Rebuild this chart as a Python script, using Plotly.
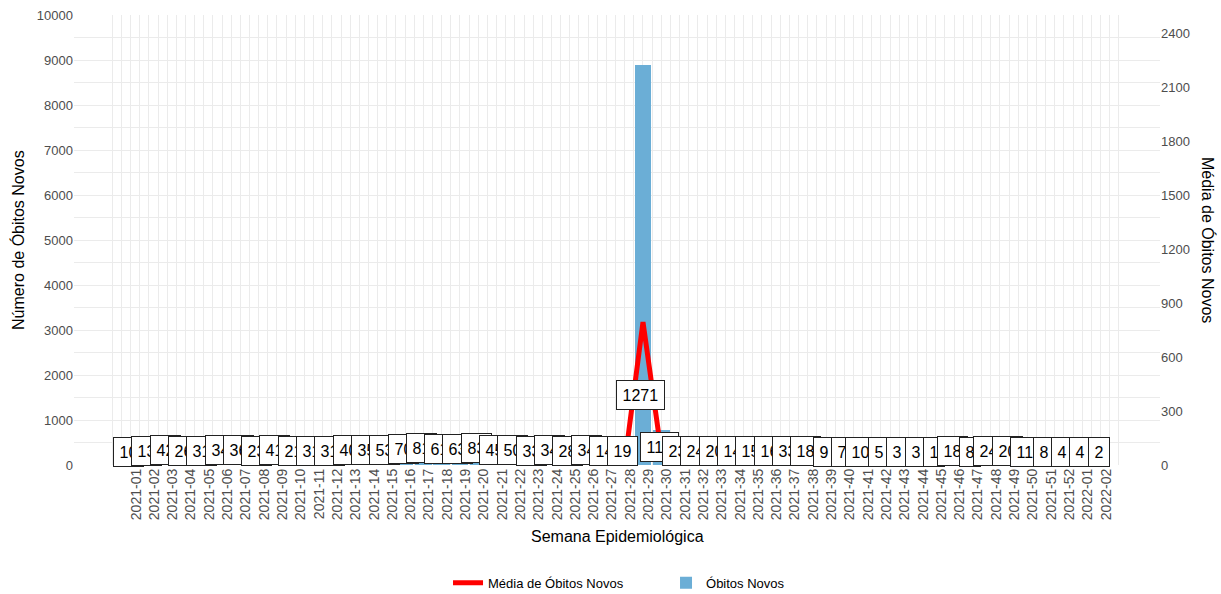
import plotly.graph_objects as go

semanas = [f"2021-{i:02d}" for i in range(1, 53)] + ["2022-01", "2022-02"]

obitos_novos = [70, 91, 294, 182, 217, 238, 252, 161, 287, 147,
                217, 217, 280, 245, 371, 490, 567, 427, 441, 581,
                315, 350, 231, 238, 196, 238, 98, 133, 8897, 770,
                161, 168, 140, 98, 105, 112, 231, 126, 63, 49,
                70, 35, 21, 21, 7, 126, 56, 168, 140, 77,
                56, 28, 28, 14]

media_obitos = [10, 13, 42, 26, 31, 34, 36, 23, 41, 21,
                31, 31, 40, 35, 53, 70, 81, 61, 63, 83,
                45, 50, 33, 34, 28, 34, 14, 19, 1271, 110,
                23, 24, 20, 14, 15, 16, 33, 18, 9, 7,
                10, 5, 3, 3, 1, 18, 8, 24, 20, 11,
                8, 4, 4, 2]

y_ticks = list(range(0, 10001, 1000))
y2_ticks = list(range(0, 2401, 300))

LINE_SCALE = 0.625   # line drawn against the secondary axis
TICK_OFFSET = 0.3
FONT = "Liberation Sans, Arial, sans-serif"
GRID = "#ebebeb"

idx = list(range(len(semanas)))

fig = go.Figure()
fig.add_trace(go.Scatter(
    x=idx, y=[m * LINE_SCALE for m in media_obitos], yaxis="y2",
    mode="lines", line=dict(color="#ff0000", width=5),
    name="Média de Óbitos Novos"))
fig.add_trace(go.Bar(
    x=idx, y=obitos_novos, width=0.9, marker=dict(color="#6baed6", line=dict(width=0)),
    name="Óbitos Novos"))

annotations = []
for i, m in zip(idx, media_obitos):
    annotations.append(dict(
        x=i, y=m, xref="x", yref="y", text=str(m), showarrow=False,
        xanchor="center", yanchor="bottom", xshift=-2, yshift=-2,
        font=dict(family=FONT, size=16, color="#000000"),
        bgcolor="#ffffff", bordercolor="#222222", borderwidth=1, borderpad=5.5))

annotations += [
    dict(x=0.5, y=-0.158, xref="paper", yref="paper", text="Semana Epidemiológica",
         showarrow=False, xanchor="center", yanchor="middle",
         font=dict(family=FONT, size=16, color="#000000")),
    dict(x=-0.0516, y=0.5, xref="paper", yref="paper", text="Número de Óbitos Novos",
         showarrow=False, textangle=-90, xanchor="center", yanchor="middle",
         font=dict(family=FONT, size=16, color="#000000")),
    dict(x=1.0442, y=0.5, xref="paper", yref="paper", text="Média de Óbitos Novos",
         showarrow=False, textangle=90, xanchor="center", yanchor="middle",
         font=dict(family=FONT, size=16, color="#000000")),
]

minor_x = [-1 + 0.5 * k for k in range(111)]

fig.update_layout(
    width=1221, height=594,
    margin=dict(l=74, r=61, t=15, b=129, autoexpand=False),
    paper_bgcolor="#ffffff", plot_bgcolor="#ffffff",
    font=dict(family=FONT, color="#4d4d4d"),
    bargap=0,
    xaxis=dict(
        range=[-3.09, 56.25], tickmode="array", automargin=False,
        tickvals=[i + TICK_OFFSET for i in idx], ticktext=semanas,
        tickangle=-90, tickfont=dict(size=14, color="#4d4d4d"),
        showgrid=False, zeroline=False, showline=False, ticks="",
        minor=dict(tickmode="array", tickvals=minor_x, showgrid=True,
                   gridcolor=GRID, gridwidth=1, ticks="")),
    yaxis=dict(
        range=[0, 10000], tickmode="array", tickvals=y_ticks, automargin=False,
        ticktext=[str(v) for v in y_ticks],
        tickfont=dict(size=13, color="#4d4d4d"),
        showgrid=True, gridcolor=GRID, gridwidth=1, zeroline=False, ticks="",
        minor=dict(tickmode="array", tickvals=[v + 500 for v in y_ticks[:-1]],
                   showgrid=True, gridcolor=GRID, gridwidth=1, ticks="")),
    yaxis2=dict(
        range=[0, 2500], overlaying="y", side="right", tickmode="array", automargin=False,
        tickvals=y2_ticks, ticktext=[str(v) for v in y2_ticks],
        tickfont=dict(size=13, color="#4d4d4d"),
        showgrid=False, zeroline=False, ticks=""),
    legend=dict(orientation="h", x=0.3444, xanchor="left", y=0.019, yanchor="middle",
                yref="container", entrywidth=173,
                font=dict(family=FONT, size=13, color="#000000"),
                bgcolor="rgba(0,0,0,0)"),
    annotations=annotations,
    showlegend=True,
)

fig.write_html("out.html", config={"displayModeBar": False},
               post_script="document.body.style.margin='0';")
